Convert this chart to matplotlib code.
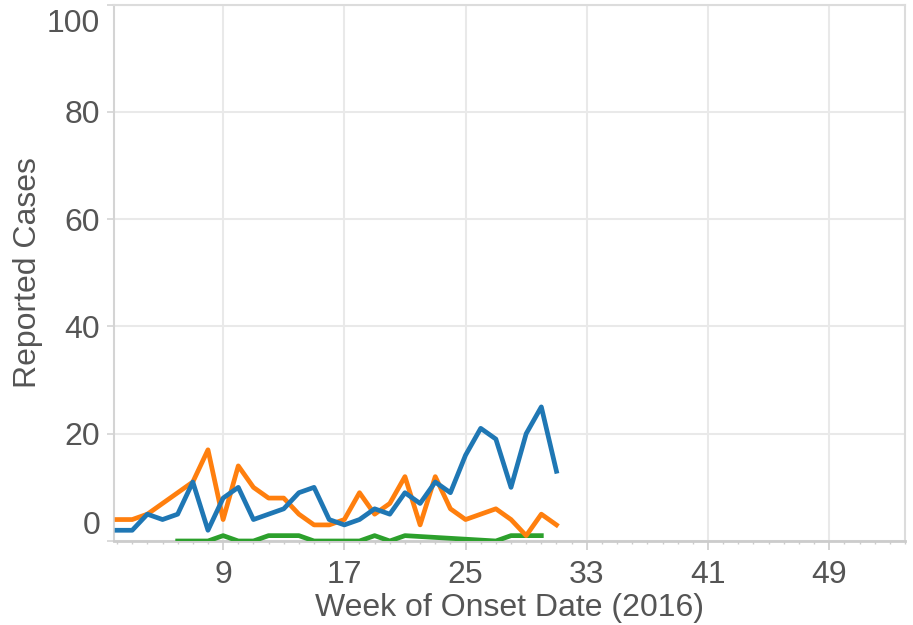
import matplotlib
matplotlib.use("Agg")
import matplotlib.pyplot as plt
import matplotlib.transforms as mtransforms
from matplotlib.ticker import MultipleLocator, FixedLocator

# data
weeks = list(range(2, 32))
blue_cases = [2, 2, 5, 4, 5, 11, 2, 8, 10, 4, 5, 6, 9, 10, 4, 3,
              4, 6, 5, 9, 7, 11, 9, 16, 21, 19, 10, 20, 25, 13]
orange_cases = [4, 4, 5, 7, 9, 11, 17, 4, 14, 10, 8, 8, 5, 3, 3, 4,
                9, 5, 7, 12, 3, 12, 6, 4, 5, 6, 4, 1, 5, 3]
green_weeks = [6, 7, 8, 9, 10, 11, 12, 13, 14, 15, 16, 17, 18, 19, 20, 21,
               27, 28, 29, 30]
green_cases = [0, 0, 0, 1, 0, 0, 1, 1, 1, 0, 0, 0, 0, 1, 0, 1, 0, 1, 1, 1]

x_ticks = [9, 17, 25, 33, 41, 49]
y_ticks = [0, 20, 40, 60, 80, 100]

text_color = "#555555"
grid_color = "#e9e9e9"

plt.rcParams["font.family"] = ["Liberation Sans", "DejaVu Sans"]

fig = plt.figure(figsize=(9.13, 6.25), dpi=100)
ax = fig.add_axes([0.1249, 0.1344, 0.8663, 0.8584])

ax.plot(green_weeks, green_cases, color="#2ca02c", lw=3.4, zorder=3)
ax.plot(weeks, orange_cases, color="#ff7f0e", lw=3.4, zorder=4)
ax.plot(weeks, blue_cases, color="#1f77b4", lw=3.4, zorder=5)

ax.set_xlim(1.8, 54.0)
ax.set_ylim(0, 100)

ax.xaxis.set_major_locator(FixedLocator(x_ticks))
ax.xaxis.set_minor_locator(MultipleLocator(1))
ax.yaxis.set_major_locator(FixedLocator(y_ticks))

ax.grid(True, color=grid_color, lw=1.5, zorder=0)
ax.set_axisbelow(True)

for side in ["top", "right"]:
    ax.spines[side].set_color("#dcdcdc")
    ax.spines[side].set_linewidth(1.5)
ax.spines["left"].set_color("#d4d4d4")
ax.spines["left"].set_linewidth(1.5)
ax.spines["bottom"].set_color("#cccccc")
ax.spines["bottom"].set_linewidth(2)

ax.tick_params(axis="x", which="major", length=6.5, width=1.2, color="#cccccc",
               pad=7, labelsize=23, labelcolor=text_color)
ax.tick_params(axis="x", which="minor", length=2.5, width=1, color="#cccccc")
ax.tick_params(axis="y", which="major", length=5, width=1.2, color="#d4d4d4",
               pad=5, labelsize=23, labelcolor=text_color)

ax.set_xlabel("Week of Onset Date (2016)", fontsize=23, color=text_color, labelpad=2)
ax.set_ylabel("Reported Cases", fontsize=23, color=text_color, labelpad=3)

# the end labels on the y axis sit inside the plot range
fig.canvas.draw()
ylabels = ax.yaxis.get_majorticklabels()
shift_up = mtransforms.ScaledTranslation(0, 19 / 100, fig.dpi_scale_trans)
shift_down = mtransforms.ScaledTranslation(0, -16 / 100, fig.dpi_scale_trans)
ylabels[0].set_transform(ylabels[0].get_transform() + shift_up)
ylabels[-1].set_transform(ylabels[-1].get_transform() + shift_down)

fig.savefig("out.png", dpi=100)
